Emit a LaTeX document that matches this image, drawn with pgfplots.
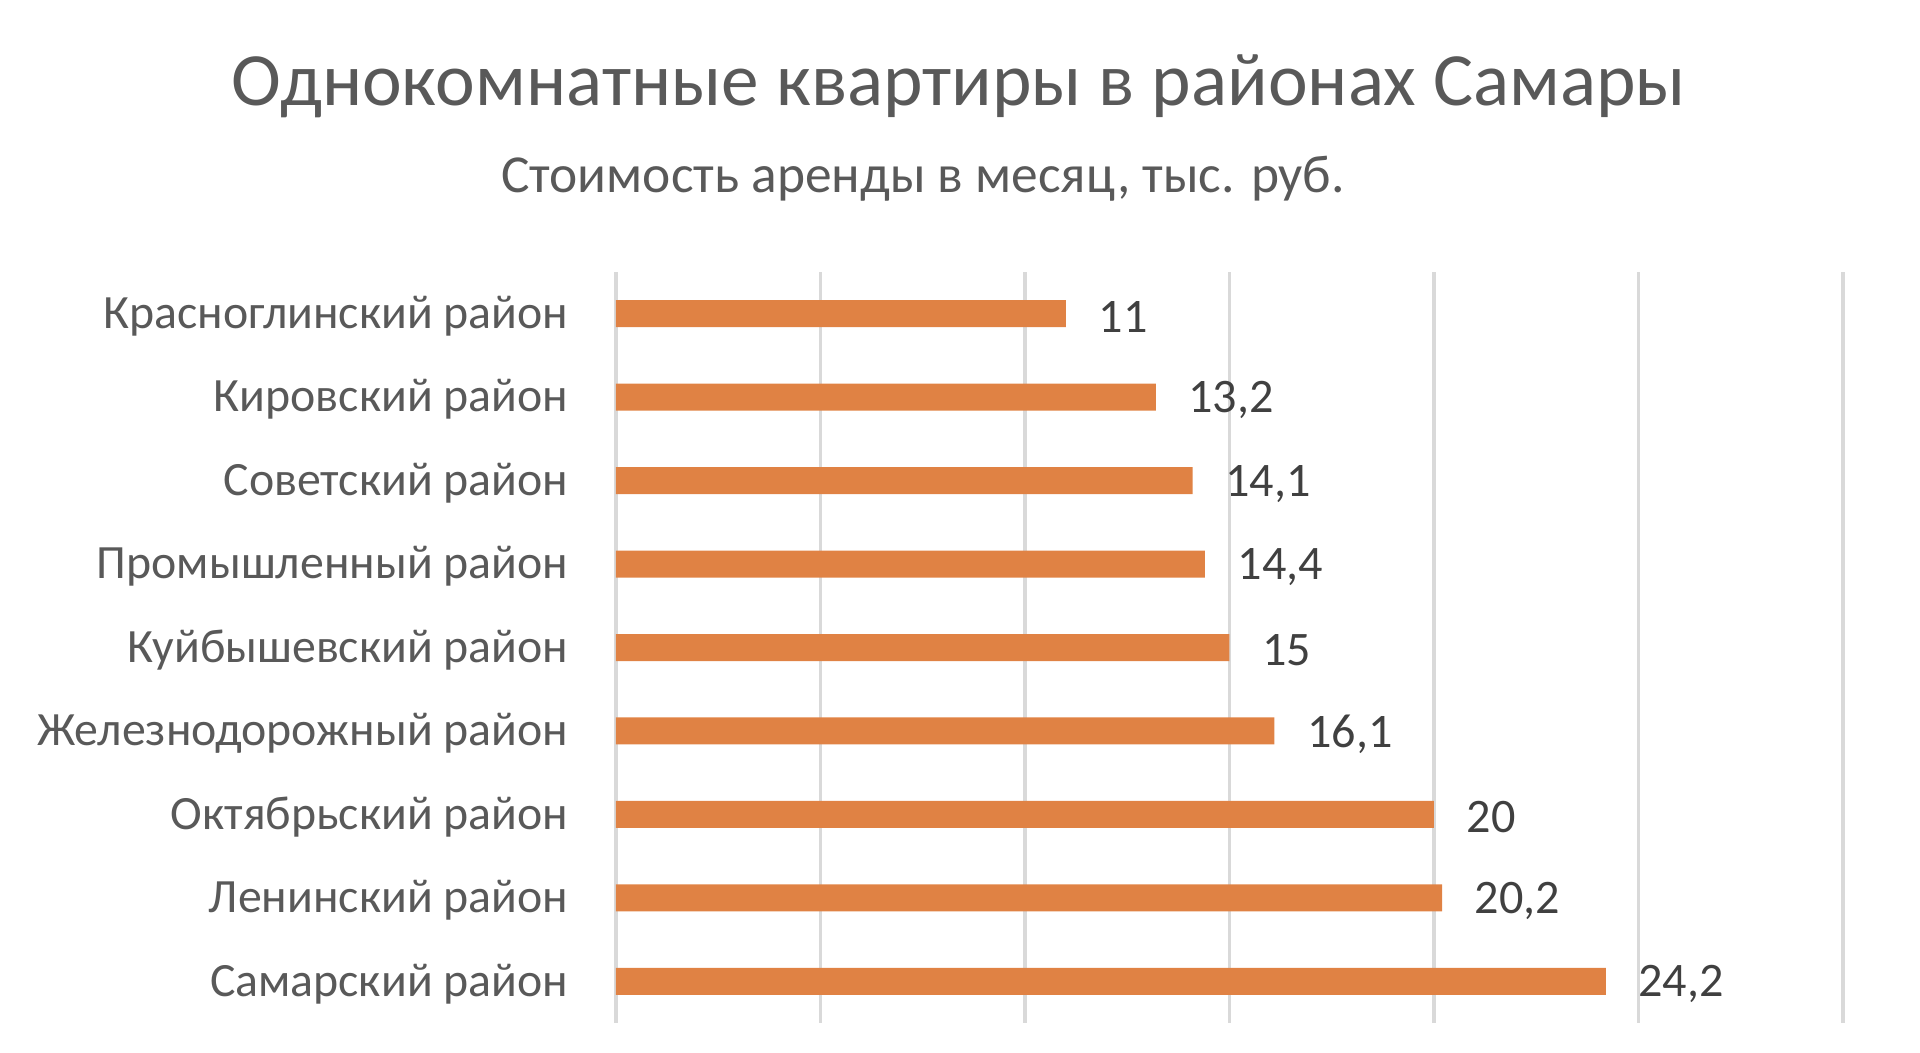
\documentclass[border=0pt]{standalone}
\usepackage{pgfplots}
\pgfplotsset{compat=1.18}
\usepackage{fontspec}
\setmainfont{Carlito}
\definecolor{barorange}{HTML}{E08244}
\definecolor{txtgray}{HTML}{595959}
\definecolor{valgray}{HTML}{404040}
\definecolor{gridgray}{HTML}{D9D9D9}
\begin{document}
\begin{tikzpicture}[x=0.1mm,y=0.1mm]
\path[use as bounding box] (0,0) rectangle (1920,1053);
\node[anchor=base, text=txtgray, font=\fontsize{21.4}{24}\selectfont] at (959,947) {Однокомнатные квартиры в районах Самары};
\node[anchor=base, text=txtgray, font=\fontsize{15.2}{18}\selectfont] at (923,860) {Стоимость аренды в месяц, тыс. руб.};
\begin{axis}[
  at={(61.6mm,3mm)}, anchor=south west,
  scale only axis, width=122.7mm, height=75.1mm,
  xbar, bar width=2.7mm,
  xmin=0, xmax=30,
  ymin=-0.5, ymax=8.5,
  axis line style={draw=none},
  xmajorgrids, xtick={0,5,...,30},
  grid style={gridgray, line width=1pt},
  ytick={0,...,8},
  yticklabels={Самарский район, Ленинский район, Октябрьский район, Железнодорожный район, Куйбышевский район, Промышленный район, Советский район, Кировский район, Красноглинский район},
  y tick label style={text=txtgray, font=\fontsize{13.6}{16}\selectfont, inner sep=0pt, xshift=-4.7mm, yshift=-0.25mm},
  xticklabels={},
  major tick length=0pt,
  nodes near coords,
  /pgf/number format/use comma,
  /pgf/number format/assume math mode=true,
  every node near coord/.append style={text=valgray, font=\fontsize{13.7}{16}\selectfont, anchor=west, inner sep=0pt, xshift=3.2mm, yshift=-0.3mm},
  clip=false,
]
\addplot[fill=barorange, draw=none] coordinates {
(24.2,0) (20.2,1) (20,2) (16.1,3) (15,4) (14.4,5) (14.1,6) (13.2,7) (11,8)
};
\end{axis}
\end{tikzpicture}
\end{document}
